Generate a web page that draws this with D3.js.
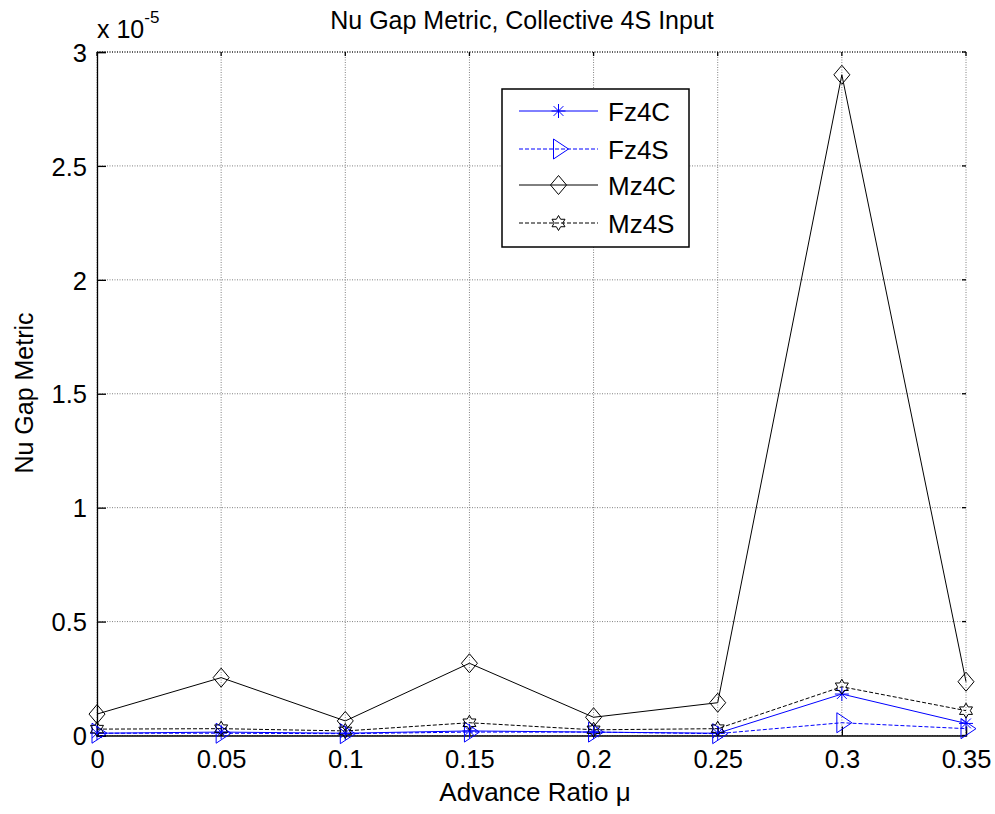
<!DOCTYPE html>
<html>
<head>
<meta charset="utf-8">
<script src="https://cdn.jsdelivr.net/npm/d3@7"></script>
<style>
  html, body { margin: 0; padding: 0; background: #fff; }
  svg { display: block; font-family: "Liberation Sans", Arial, sans-serif; }
</style>
</head>
<body>
<svg id="chart" width="995" height="814"></svg>
<script>
// ---- data (values in units of 1e-5) ----
const mu = [0, 0.05, 0.1, 0.15, 0.2, 0.25, 0.3, 0.35];
const fz4c = [0.010, 0.015, 0.010, 0.020, 0.015, 0.010, 0.182, 0.053];
const fz4s = [0.010, 0.010, 0.008, 0.015, 0.015, 0.008, 0.056, 0.030];
const mz4c = [0.094, 0.254, 0.064, 0.317, 0.080, 0.144, 2.900, 0.236];
const mz4s = [0.028, 0.030, 0.020, 0.056, 0.025, 0.030, 0.214, 0.109];
const xTicks = [0, 0.05, 0.1, 0.15, 0.2, 0.25, 0.3, 0.35];
const yTicks = [0, 0.5, 1, 1.5, 2, 2.5, 3];
const seriesNames = ["Fz4C", "Fz4S", "Mz4C", "Mz4S"];

const series = [
  { name: seriesNames[0], values: fz4c, color: "#0000ff", dash: null, marker: "asterisk" },
  { name: seriesNames[1], values: fz4s, color: "#0000ff", dash: "4,2", marker: "triangleRight" },
  { name: seriesNames[2], values: mz4c, color: "#000000", dash: null, marker: "diamond" },
  { name: seriesNames[3], values: mz4s, color: "#000000", dash: "4,2", marker: "hexagram" }
];

const svg = d3.select("#chart");
const L = 97, R = 966, T = 52, B = 735.5;
const x = d3.scaleLinear().domain([0, 0.35]).range([L, R]);
const y = d3.scaleLinear().domain([0, 3]).range([B, T]);

// grid
const grid = svg.append("g");
xTicks.forEach(t => {
  grid.append("line").attr("x1", x(t)).attr("x2", x(t)).attr("y1", T).attr("y2", B)
    .attr("stroke", "#808080").attr("stroke-width", 1).attr("stroke-dasharray", "1,1.5");
});
yTicks.forEach(t => {
  grid.append("line").attr("x1", L).attr("x2", R).attr("y1", y(t)).attr("y2", y(t))
    .attr("stroke", "#808080").attr("stroke-width", 1).attr("stroke-dasharray", "1,1.5");
});
// top border dotted black
svg.append("line").attr("x1", L).attr("x2", R).attr("y1", T).attr("y2", T)
  .attr("stroke", "#000").attr("stroke-dasharray", "1,1.5");

// axes (left & bottom) via d3 axes with inward ticks
const xAxis = d3.axisBottom(x).tickValues(xTicks).tickSize(-9).tickPadding(20)
  .tickFormat(d => d3.format("")(+d.toFixed(2)));
const yAxis = d3.axisLeft(y).tickValues(yTicks).tickSize(-9).tickPadding(10)
  .tickFormat(d => d3.format("")(d));

const gx = svg.append("g").attr("transform", `translate(0,${B})`).call(xAxis);
const gy = svg.append("g").attr("transform", `translate(${L},0)`).call(yAxis);
[gx, gy].forEach(g => {
  g.select(".domain").attr("stroke", "#000").attr("stroke-width", 1.3);
  g.selectAll(".tick line").attr("stroke", "#000").attr("stroke-width", 1.3);
  g.selectAll("text").attr("font-size", 25.5).attr("fill", "#000")
    .attr("font-family", "Liberation Sans, Arial, sans-serif");
});
gx.selectAll(".tick text").attr("dy", "0.71em").attr("y", 14);
gy.selectAll(".tick text").attr("dy", "0.36em");

// top & right ticks
xTicks.forEach(t => {
  svg.append("line").attr("x1", x(t)).attr("x2", x(t)).attr("y1", T).attr("y2", T + 4)
    .attr("stroke", "#000").attr("stroke-width", 1.3);
});
yTicks.forEach(t => {
  svg.append("line").attr("x1", R).attr("x2", R - 4).attr("y1", y(t)).attr("y2", y(t))
    .attr("stroke", "#000").attr("stroke-width", 1.3);
});

// marker drawing
function drawMarker(g, type, cx, cy, color) {
  const m = g.append("g").attr("transform", `translate(${cx},${cy})`)
    .attr("fill", "none").attr("stroke", color).attr("stroke-width", 1);
  if (type === "asterisk") {
    const r = 7;
    m.append("line").attr("x1", 0).attr("x2", 0).attr("y1", -r).attr("y2", r);
    m.append("line").attr("x1", -r).attr("x2", r).attr("y1", 0).attr("y2", 0);
    m.append("line").attr("x1", -r*0.7).attr("x2", r*0.7).attr("y1", -r*0.7).attr("y2", r*0.7);
    m.append("line").attr("x1", -r*0.7).attr("x2", r*0.7).attr("y1", r*0.7).attr("y2", -r*0.7);
  } else if (type === "triangleRight") {
    m.append("path").attr("d", "M-5,-10 L10,0 L-5,10 Z");
  } else if (type === "diamond") {
    m.append("path").attr("d", "M0,-9.5 L8,0 L0,9.5 L-8,0 Z");
  } else if (type === "hexagram") {
    const pts = [];
    const ro = 7.5, ri = 4.3;
    for (let i = 0; i < 12; i++) {
      const a = -Math.PI / 2 + i * Math.PI / 6;
      const r = i % 2 === 0 ? ro : ri;
      pts.push([r * Math.cos(a), r * Math.sin(a)]);
    }
    m.append("path").attr("d", "M" + pts.map(p => p.join(",")).join("L") + "Z");
  }
}

const line = d3.line().x((d, i) => x(mu[i])).y(d => y(d));
const plot = svg.append("g");
series.forEach(s => {
  plot.append("path").datum(s.values).attr("d", line)
    .attr("fill", "none").attr("stroke", s.color).attr("stroke-width", 1)
    .attr("stroke-dasharray", s.dash);
  s.values.forEach((v, i) => drawMarker(plot, s.marker, x(mu[i]), y(v), s.color));
});

// legend
const lg = svg.append("g");
lg.append("rect").attr("x", 502).attr("y", 89).attr("width", 187).attr("height", 158)
  .attr("fill", "#fff").attr("stroke", "#000").attr("stroke-width", 1.5);
const rowY = [111, 149, 185, 223];
series.forEach((s, i) => {
  lg.append("line").attr("x1", 519).attr("x2", 598).attr("y1", rowY[i]).attr("y2", rowY[i])
    .attr("stroke", s.color).attr("stroke-width", 1).attr("stroke-dasharray", s.dash);
  drawMarker(lg, s.marker, 558.5, rowY[i], s.color);
  lg.append("text").attr("x", 608).attr("y", rowY[i] + 9.5).attr("font-size", 26)
    .attr("fill", "#000").text(s.name);
});

// title & labels
svg.append("text").attr("x", 522).attr("y", 29).attr("text-anchor", "middle")
  .attr("font-size", 25).attr("fill", "#000").text("Nu Gap Metric, Collective 4S Input");
svg.append("text").attr("x", 535).attr("y", 801).attr("text-anchor", "middle")
  .attr("font-size", 26).attr("fill", "#000").text("Advance Ratio μ");
svg.append("text").attr("transform", "translate(33,393) rotate(-90)").attr("text-anchor", "middle")
  .attr("font-size", 25).attr("fill", "#000").text("Nu Gap Metric");
// exponent
const ex = svg.append("text").attr("x", 97).attr("y", 38).attr("font-size", 25).attr("fill", "#000");
ex.append("tspan").text("x 10");
ex.append("tspan").attr("dy", -15).attr("font-size", 17).text("-5");
</script>
</body>
</html>
